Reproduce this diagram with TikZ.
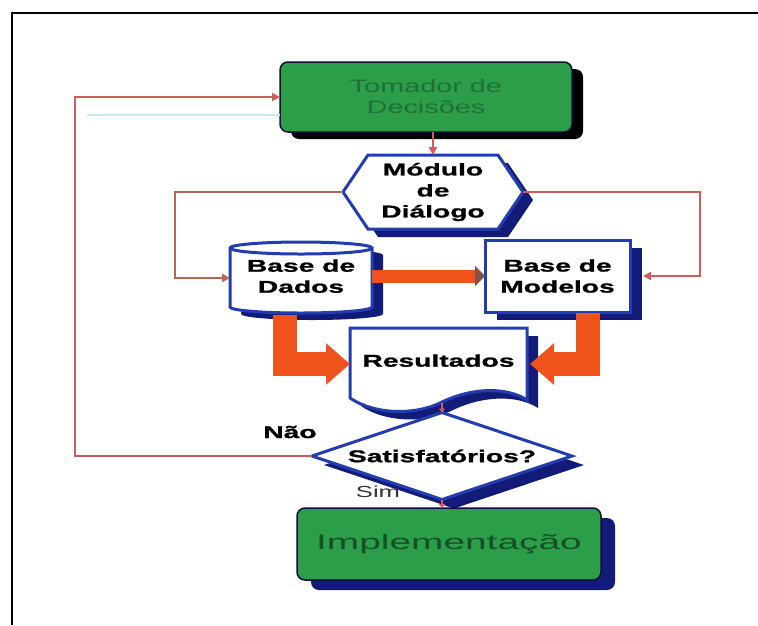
\documentclass[tikz,border=0pt]{standalone}
\usepackage{fontspec}
\setmainfont{Liberation Sans}
\newfontfamily\boldwide{Liberation Sans}[FakeStretch=1.66,FakeBold=1.2]
\newfontfamily\greenwide{Liberation Sans}[FakeStretch=1.6]
\newfontfamily\implwide{Liberation Sans}[FakeStretch=1.85]
\usetikzlibrary{arrows.meta,shapes.geometric,shadows,calc}
\pgfdeclarelayer{back}
\pgfsetlayers{back,main}

\definecolor{boxgreen}{RGB}{44,158,74}
\definecolor{tomtext}{RGB}{30,112,52}
\definecolor{impltext}{RGB}{22,78,38}
\definecolor{edgeblue}{RGB}{35,60,175}
\definecolor{navy}{RGB}{18,28,120}
\definecolor{flowred}{RGB}{210,92,92}
\definecolor{dialogbrown}{RGB}{178,104,84}
\definecolor{fatorange}{RGB}{240,82,28}
\definecolor{tipgray}{RGB}{125,85,75}
\definecolor{paleblue}{RGB}{195,232,242}

\tikzset{
  greenbox/.style={rounded corners=8pt, fill=boxgreen, draw=navy!50!black,
    line width=1.5pt, align=center, outer sep=0pt},
  whitebox/.style={fill=white, draw=edgeblue, line width=3pt},
  boldtext/.style={font=\boldwide\bfseries\fontsize{17}{21}\selectfont,
    align=center, text=black, outer sep=0pt, inner sep=0pt},
  flow/.style={draw=flowred, line width=2.5pt, -{Triangle[length=8pt,width=8pt]}},
  shortflow/.style={draw=flowred, line width=2.5pt, -{Triangle[length=4pt,width=6pt]}},
  fat/.style={draw=fatorange, line width=24pt, line join=miter,
    -{Triangle[length=24pt,width=40pt]}},
  midfat/.style={draw=fatorange, line width=13pt,
    -{Triangle[length=10pt,width=20pt,color=tipgray]}},
}

\begin{document}
\begin{tikzpicture}[x=1pt,y=1pt]
\useasboundingbox (0,0) rectangle (758,-625);
\begin{pgfonlayer}{back}
  \fill[white] (0,0) rectangle (758,-625);
\end{pgfonlayer}

% outer frame (top and left edges)
\draw[line width=2.5pt, black] (12,-625) -- (12,-13) -- (758,-13);

% ---------- nodes ----------
\node[greenbox, minimum width=292pt, minimum height=70pt,
      drop shadow={shadow xshift=11pt, shadow yshift=-7pt, fill=black, opacity=1},
      font=\greenwide\fontsize{18}{21}\selectfont, text=tomtext]
  (tom) at (426,-97) {Tomador de\\Decisões};

\node[boldtext, minimum width=180pt, minimum height=74pt]
  (mod) at (433,-192) {Módulo\\de\\Diálogo};

\node[boldtext, minimum width=142pt, minimum height=71pt]
  (dad) at (301,-278) {\raisebox{-8pt}{\begin{tabular}{@{}c@{}}Base de\\Dados\end{tabular}}};

\node[boldtext, whitebox, minimum width=145pt, minimum height=72pt,
      drop shadow={shadow xshift=12pt, shadow yshift=-8pt, fill=navy, opacity=1}]
  (mdl) at (557.5,-276) {Base de\\Modelos};

\node[boldtext, minimum width=177pt, minimum height=72pt]
  (res) at (438.5,-364) {\raisebox{7pt}{Resultados}};

\node[boldtext, minimum width=260pt, minimum height=87pt]
  (sat) at (442,-456) {Satisfatórios?};

\node[greenbox, minimum width=304pt, minimum height=72pt,
      drop shadow={shadow xshift=14pt, shadow yshift=-10pt, fill=navy, opacity=1},
      font=\implwide\fontsize{21}{24}\selectfont, text=impltext]
  (imp) at (449,-544) {Implementação};

\node[font=\boldwide\bfseries\fontsize{17}{20}\selectfont] (nao) at (290,-432) {Não};
\node[font=\greenwide\fontsize{16}{19}\selectfont, text=black!80] (sim) at (378,-492) {Sim};

% ---------- custom outlines ----------
\begin{pgfonlayer}{back}
  % dialogue module: hexagon
  \begin{scope}[shift={(mod.center)}]
    \fill[navy, shift={(10,-8)}] (-90,0) -- (-65,37) -- (65,37) -- (90,0) -- (65,-37) -- (-65,-37) -- cycle;
    \draw[whitebox] (-90,0) -- (-65,37) -- (65,37) -- (90,0) -- (65,-37) -- (-65,-37) -- cycle;
  \end{scope}
  % database: cylinder
  \begin{scope}[shift={(dad.center)}]
    \fill[navy, shift={(11,-7)}] (-71,30) -- (-71,-29)
      arc[start angle=180, end angle=360, x radius=71, y radius=6] -- (71,30)
      arc[start angle=0, end angle=180, x radius=71, y radius=6] -- cycle;
    \draw[whitebox] (-71,30) -- (-71,-29)
      arc[start angle=180, end angle=360, x radius=71, y radius=6] -- (71,30)
      arc[start angle=0, end angle=180, x radius=71, y radius=6] -- cycle;
    \draw[edgeblue, line width=3pt] (-71,30)
      arc[start angle=180, end angle=360, x radius=71, y radius=6];
  \end{scope}
  % results: document with wavy bottom
  \begin{scope}[shift={(res.center)}]
    \fill[navy, shift={(11,-8)}] (-88.5,36) -- (88.5,36) -- (88.5,-36)
      .. controls (66.5,-22) and (31.5,-24) .. (1.5,-39)
      .. controls (-23.5,-51) and (-63.5,-51) .. (-88.5,-34) -- cycle;
    \draw[whitebox] (-88.5,36) -- (88.5,36) -- (88.5,-36)
      .. controls (66.5,-22) and (31.5,-24) .. (1.5,-39)
      .. controls (-23.5,-51) and (-63.5,-51) .. (-88.5,-34) -- cycle;
  \end{scope}
  % decision: diamond
  \begin{scope}[shift={(sat.center)}]
    \fill[navy, shift={(12,-9)}] (-130,0) -- (0,43.5) -- (130,0) -- (0,-43.5) -- cycle;
    \draw[whitebox] (-130,0) -- (0,43.5) -- (130,0) -- (0,-43.5) -- cycle;
  \end{scope}
\end{pgfonlayer}

% ---------- thin connectors ----------
\coordinate (dlgL) at (175,-192);
\coordinate (dlgR) at (700,-192);
\coordinate (fbL) at (75,-456);
\coordinate (cyanL) at (87,-115);

\draw[flow] (tom.south -| mod.north) -- (mod.north);
\draw[flow, draw=dialogbrown] (mod.west) -- (dlgL) |- (dad.west);
\draw[flow] (mod.east) -- (dlgR) |- ($(mdl.east)+(13,0)$);
\draw[flow] (sat.west) -- (fbL) |- (tom.west);
\draw[draw=paleblue, line width=2pt] (cyanL) -- (cyanL -| tom.west);
\draw[shortflow] ($(res.south -| sat.north)+(0,-3)$) -- (sat.north);
\draw[shortflow] (sat.south) -- (sat.south |- imp.north);

% ---------- thick flow arrows ----------
\draw[midfat] (dad.east |- mdl.west) -- (mdl.west);
\draw[fat] ($(dad.south)+(-16,-1)$) |- (res.west);
\draw[fat] ($(mdl.south)+(30,-1)$) |- ($(res.east)+(3,0)$);
\end{tikzpicture}
\end{document}
